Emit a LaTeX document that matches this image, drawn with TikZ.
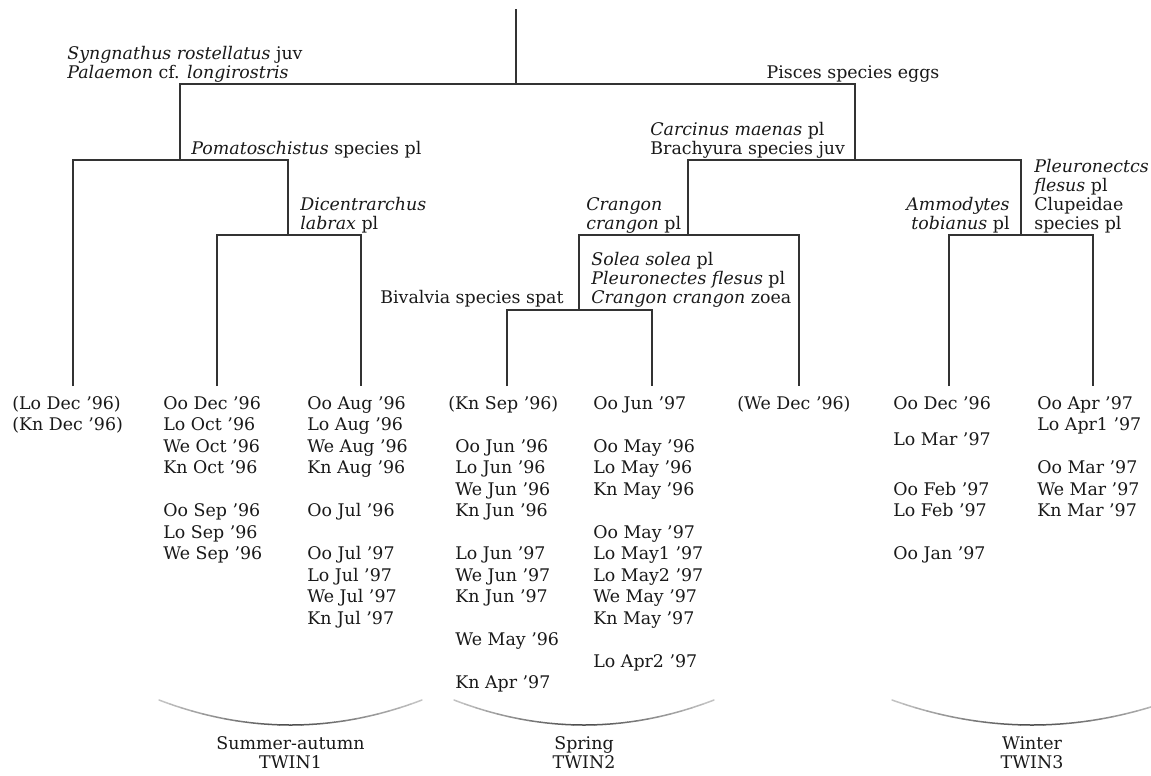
\documentclass[tikz,border=0pt]{standalone}
\usepackage{fontspec}
\setmainfont{DejaVu Serif}
\tikzset{
  tree/.style={draw=black!80, line width=0.6pt},
  lf/.style={anchor=base west, inner sep=0pt, font=\fontsize{8.7}{10}\selectfont, text=black!90},
  lbl/.style={anchor=base west, inner sep=0pt, font=\fontsize{8.7}{10}\selectfont, text=black!90},
  lblr/.style={lbl, anchor=base east},
  lblc/.style={lbl, anchor=base},
}
\newcommand\leafcol[3]{\foreach \r/\t [count=\k] in {#3} \node[lf] (#1-\k) at (#2,{409+\r*21.5}) {\t};}
\begin{document}
\begin{tikzpicture}[x=0.5pt,y=-0.5pt]
\clip (0,0) rectangle (1151,776);
\fill[white] (0,0) rectangle (1151,776);
% junctions
\coordinate (rt) at (516,9);
\coordinate (nR) at (516,84);
\coordinate (nA) at (180,160);
\coordinate (nB) at (855,160);
\coordinate (nC) at (288,235);
\coordinate (nD) at (688,235);
\coordinate (nE) at (1021,235);
\coordinate (nF) at (579,310);
\coordinate (l1) at (73,386);
\coordinate (l2) at (217,386);
\coordinate (l3) at (361,386);
\coordinate (l4) at (507,386);
\coordinate (l5) at (652,386);
\coordinate (l6) at (799,386);
\coordinate (l7) at (949,386);
\coordinate (l8) at (1093,386);
% dendrogram
\draw[tree] (nR) -- (rt);
\draw[tree] (nA) -- (nA |- nR) -- (nB |- nR) -- (nB);
\draw[tree] (l1) -- (l1 |- nA) -- (nC |- nA) -- (nC);
\draw[tree] (l2) -- (l2 |- nC) -- (l3 |- nC) -- (l3);
\draw[tree] (nD) -- (nD |- nB) -- (nE |- nB) -- (nE);
\draw[tree] (nF) -- (nF |- nD) -- (l6 |- nD) -- (l6);
\draw[tree] (l4) -- (l4 |- nF) -- (l5 |- nF) -- (l5);
\draw[tree] (l7) -- (l7 |- nE) -- (l8 |- nE) -- (l8);
% indicator labels
\node[lbl] (syn) at (67,59) {\textit{Syngnathus rostellatus} juv};
\node[lbl] (pal) at (67,78) {\textit{Palaemon} cf. \textit{longirostris}};
\node[lblc] (pis) at (853,78) {Pisces species eggs};
\node[lbl] (pom) at (191,154) {\textit{Pomatoschistus} species pl};
\node[lbl] (car) at (650,135) {\textit{Carcinus maenas} pl};
\node[lbl] (bra) at (650,154) {Brachyura species juv};
\node[lbl] (dic1) at (300,210) {\textit{Dicentrarchus}};
\node[lbl] (dic2) at (300,229) {\textit{labrax} pl};
\node[lbl] (cra1) at (586,210) {\textit{Crangon}};
\node[lbl] (cra2) at (586,229) {\textit{crangon} pl};
\node[lblr] (amm1) at (1010,210) {\textit{Ammodytes}};
\node[lblr] (amm2) at (1010,229) {\textit{tobianus} pl};
\node[lbl] (ple1) at (1034,172) {\textit{Pleuronectcs}};
\node[lbl] (ple2) at (1034,191) {\textit{flesus} pl};
\node[lbl] (ple3) at (1034,210) {Clupeidae};
\node[lbl] (ple4) at (1034,229) {species pl};
\node[lbl] (sol1) at (591,265) {\textit{Solea solea} pl};
\node[lbl] (sol2) at (591,284) {\textit{Pleuronectes flesus} pl};
\node[lbl] (sol3) at (591,303) {\textit{Crangon crangon} zoea};
\node[lblr] (biv) at (564,303) {Bivalvia species spat};
% leaves
\leafcol{c0}{12}{0/{(Lo Dec '96)},1/{(Kn Dec '96)}}
\leafcol{c1}{163}{0/{Oo Dec '96},1/{Lo Oct '96},2/{We Oct '96},3/{Kn Oct '96},5/{Oo Sep '96},6/{Lo Sep '96},7/{We Sep '96}}
\leafcol{c2}{307}{0/{Oo Aug '96},1/{Lo Aug '96},2/{We Aug '96},3/{Kn Aug '96},5/{Oo Jul '96},7/{Oo Jul '97},8/{Lo Jul '97},9/{We Jul '97},10/{Kn Jul '97}}
\leafcol{c3a}{448}{0/{(Kn Sep '96)}}
\leafcol{c3}{455}{2/{Oo Jun '96},3/{Lo Jun '96},4/{We Jun '96},5/{Kn Jun '96},7/{Lo Jun '97},8/{We Jun '97},9/{Kn Jun '97},11/{We May '96},13/{Kn Apr '97}}
\leafcol{c4}{593}{0/{Oo Jun '97},2/{Oo May '96},3/{Lo May '96},4/{Kn May '96},6/{Oo May '97},7/{Lo May1 '97},8/{Lo May2 '97},9/{We May '97},10/{Kn May '97},12/{Lo Apr2 '97}}
\leafcol{c5}{737}{0/{(We Dec '96)}}
\leafcol{c6}{893}{0/{Oo Dec '96},1.7/{Lo Mar '97},4/{Oo Feb '97},5/{Lo Feb '97},7/{Oo Jan '97}}
\leafcol{c7}{1037}{0/{Oo Apr '97},1/{Lo Apr1 '97},3/{Oo Mar '97},4/{We Mar '97},5/{Kn Mar '97}}
% group arcs (shaded: light at the ends, dark in the middle)
\foreach \cx/\hw in {290.5/131.5, 584/130, 1032/140} {
  \foreach \i in {0,...,23} {
    \pgfmathsetmacro\ta{\i/24}
    \pgfmathsetmacro\tb{(\i+1)/24}
    \pgfmathtruncatemacro\sh{22+50*(1-abs(2*(\ta+1/48)-1))}
    \draw[line width=0.75pt, line cap=round, draw=black!\sh]
      plot[domain=\ta:\tb, samples=4] ({\cx-\hw+2*\hw*\x},{700+100*\x*(1-\x)});
  }
}
\node[lblc] (g1a) at (290.5,749) {Summer-autumn};
\node[lblc] (g1b) at (290.5,768) {TWIN1};
\node[lblc] (g2a) at (584,749) {Spring};
\node[lblc] (g2b) at (584,768) {TWIN2};
\node[lblc] (g3a) at (1032,749) {Winter};
\node[lblc] (g3b) at (1032,768) {TWIN3};
\end{tikzpicture}
\end{document}
